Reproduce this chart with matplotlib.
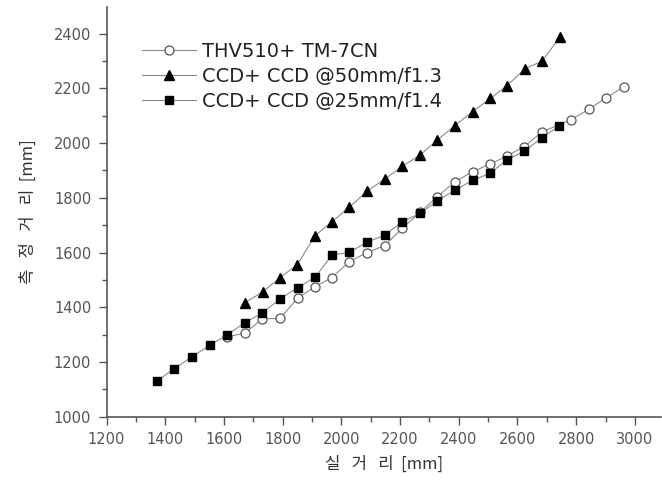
import matplotlib
matplotlib.use("Agg")
import matplotlib.pyplot as plt
from matplotlib.ticker import MultipleLocator

plt.rcParams['font.family'] = ['DejaVu Sans']

# real distance (x) / measured distance (y), mm
x_thv = [1610, 1671, 1731, 1791, 1851, 1910, 1968, 2027, 2088, 2147, 2207, 2268,
         2326, 2387, 2447, 2506, 2563, 2623, 2684, 2782, 2844, 2903, 2962]
y_thv = [1292, 1305, 1358, 1359, 1433, 1475, 1508, 1567, 1600, 1625, 1688, 1747,
         1803, 1859, 1895, 1923, 1952, 1987, 2041, 2085, 2124, 2166, 2205]

x_ccd50 = [1671, 1733, 1791, 1850, 1911, 1968, 2027, 2088, 2148, 2207, 2268, 2326,
           2387, 2447, 2508, 2564, 2627, 2685, 2744]
y_ccd50 = [1416, 1457, 1508, 1556, 1662, 1713, 1765, 1825, 1868, 1915, 1956, 2010,
           2064, 2115, 2163, 2210, 2272, 2300, 2387]

x_ccd25 = [1371, 1430, 1491, 1551, 1610, 1671, 1731, 1791, 1851, 1910, 1968, 2027,
           2088, 2147, 2207, 2268, 2326, 2387, 2447, 2506, 2563, 2623, 2684, 2742]
y_ccd25 = [1130, 1175, 1219, 1261, 1299, 1343, 1380, 1430, 1472, 1509, 1590, 1601,
           1638, 1663, 1712, 1743, 1788, 1828, 1864, 1889, 1938, 1970, 2020, 2062]

labels = ["THV510+ TM-7CN", "CCD+ CCD @50mm/f1.3", "CCD+ CCD @25mm/f1.4"]

fig = plt.figure(figsize=(6.62, 4.9), dpi=100)
ax = fig.add_axes([0.161, 0.1496, 0.837, 0.836])

line_c = "#8a8a8a"
ax.plot(x_thv, y_thv, color=line_c, lw=0.8, marker="o", ms=6.5,
        mfc="white", mec="#555555", mew=0.9, label=labels[0])
ax.plot(x_ccd50, y_ccd50, color=line_c, lw=0.8, marker="^", ms=7.5,
        mfc="black", mec="black", label=labels[1])
ax.plot(x_ccd25, y_ccd25, color=line_c, lw=0.8, marker="s", ms=6,
        mfc="black", mec="black", label=labels[2])

ax.set_xlim(1200, 3088)
ax.set_ylim(1000, 2497)
ax.xaxis.set_major_locator(MultipleLocator(200))
ax.xaxis.set_minor_locator(MultipleLocator(100))
ax.yaxis.set_major_locator(MultipleLocator(200))
ax.yaxis.set_minor_locator(MultipleLocator(100))

for s in ["top", "right"]:
    ax.spines[s].set_visible(False)
for s in ["left", "bottom"]:
    ax.spines[s].set_color("#555555")
    ax.spines[s].set_linewidth(1.2)

ax.tick_params(which="major", direction="out", length=6, width=1, color="#555555",
               labelsize=10.5, labelcolor="#555555", pad=5)
ax.tick_params(which="minor", direction="out", length=3.5, width=1, color="#555555")

kr = ["Noto Sans CJK KR", "DejaVu Sans"]
ax.set_xlabel("실   거   리  [mm]", family=kr, fontsize=12, color="#333333", labelpad=6)
ax.set_ylabel("측   정   거   리  [mm]", family=kr, fontsize=12, color="#333333", labelpad=12)

leg = ax.legend(loc="upper left", bbox_to_anchor=(0.208, 0.922),
                bbox_transform=fig.transFigure, fontsize=14,
                handlelength=2.8, handletextpad=0.3, labelspacing=0.3,
                borderpad=0.2, borderaxespad=0, frameon=True, fancybox=False)
leg.get_frame().set_facecolor("white")
leg.get_frame().set_edgecolor("none")
leg.get_frame().set_alpha(1)
for t in leg.get_texts():
    t.set_color("#222222")

fig.savefig("out.png", dpi=100)
